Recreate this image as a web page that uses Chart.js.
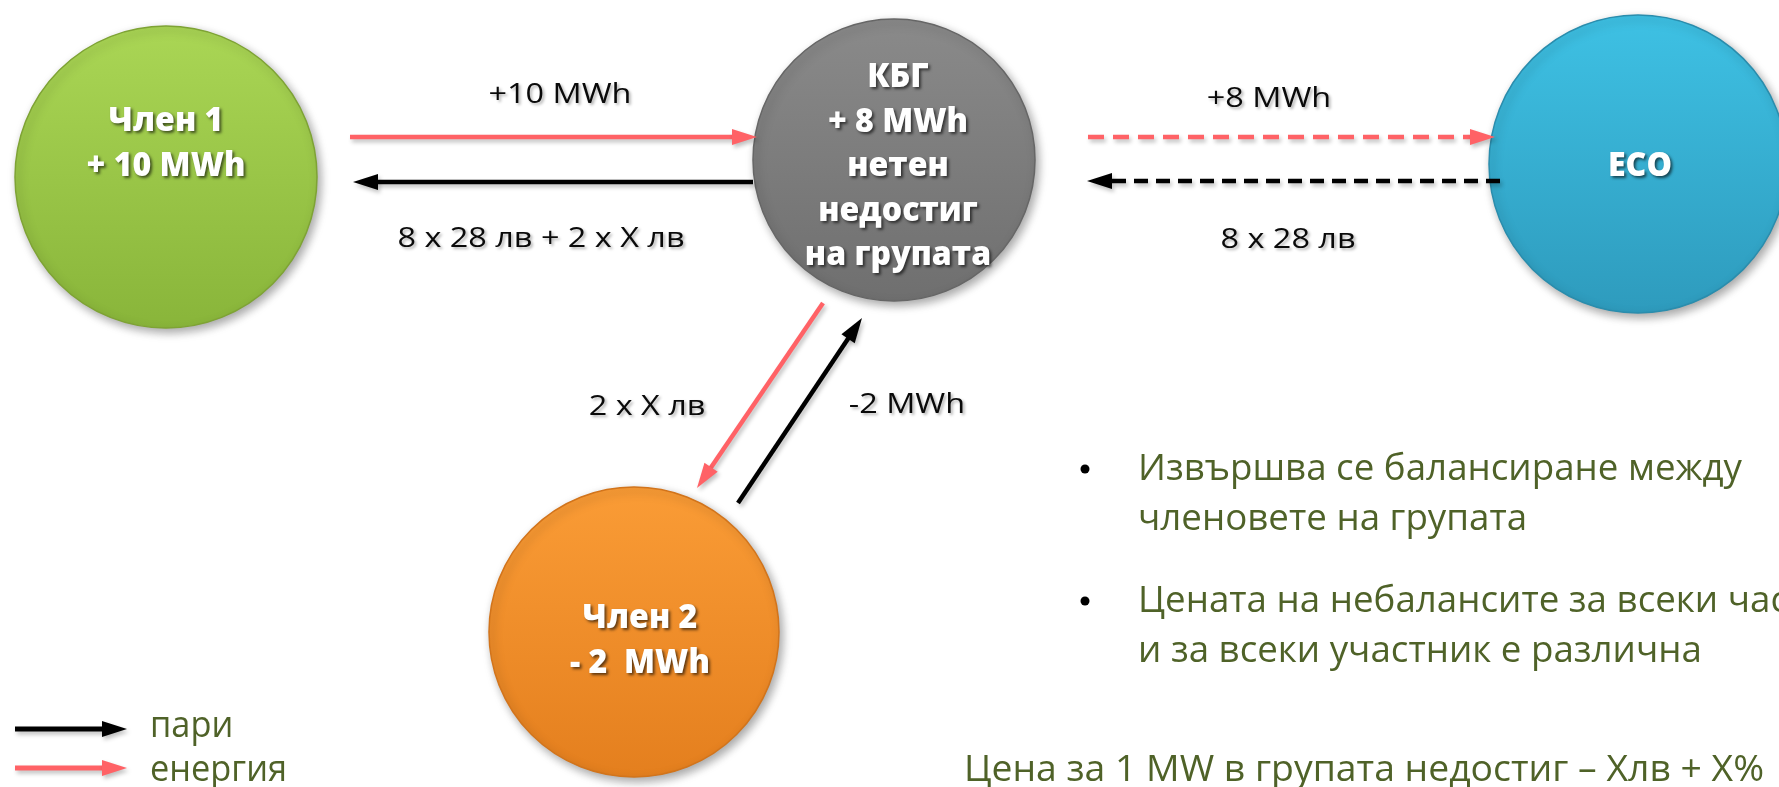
<!DOCTYPE html>
<html>
<head>
<meta charset="utf-8">
<script src="https://cdn.jsdelivr.net/npm/chart.js@4/dist/chart.umd.min.js"></script>
<style>
    body { margin: 0; background: #ffffff; }
    #box { width: 1779px; height: 787px; }
</style>
</head>
<body>
<div id="box"><canvas id="diagram"></canvas></div>
<script>
/* data: nodes, flows, notes */
const nodeNames = ['Член 1', 'КБГ', 'ECO', 'Член 2'];
const nodeLines = [
    ['Член 1', '+ 10 MWh'],
    ['КБГ', '+ 8 MWh', 'нетен', 'недостиг', 'на групата'],
    ['ECO'],
    ['Член 2', '- 2  MWh']
];
const flowKinds = ['energy', 'money', 'energy', 'money', 'energy', 'money'];
const flowDashed = [false, false, true, true, false, false];
const flowLabels = ['+10 MWh', '8 x 28 лв + 2 x X лв', '+8 MWh', '8 x 28 лв', '2 x X лв', '-2 MWh'];
const legendLabels = ['пари', 'енергия'];
const legendKinds = ['money', 'energy'];
const bulletTexts = [
    ['Извършва се балансиране между', 'членовете на групата'],
    ['Цената на небалансите за всеки час', 'и за всеки участник е различна']
];
const footNote = 'Цена за 1 MW в групата недостиг – Хлв + Х%';

/* layout (axis units = page pixels) */
const layout = {
    nodeX: [166, 894, 1638, 634],
    nodeY: [177, 160, 164, 632],
    nodeR: [151, 141, 149, 145],
    nodeTextX: [166, 898, 1640, 640],
    nodeTextY: [131, 87, 176, 628],
    nodeLineGap: 44.5,
    flows: [[350, 137, 757, 137], [753, 182, 353, 182], [1088, 137, 1495, 137],
            [1500, 181, 1087, 181], [823, 303, 697, 488], [738, 503, 862, 318]],
    flowText: [[560, 103], [541, 247], [1269, 107], [1288, 248], [647, 415], [907, 413]],
    legend: [[15, 729, 127, 729], [15, 768, 127, 768]],
    legendText: [[150, 737], [150, 781]],
    bulletX: 1085, textX: 1138,
    bulletY: [[480, 530], [612, 662]],
    footX: 964, footY: 781
};

const topColors = ['#aad655', '#8a8a8a', '#3ec1e4', '#fa9c36'];
const bottomColors = ['#89b53a', '#6f6f6f', '#2e9bbd', '#e47f1e'];
const rimColors = ['#7ea334', '#666666', '#2a8dad', '#d2741b'];
const kindColor = { energy: '#ff6266', money: '#000000' };
const olive = '#4f6228';

const FONT = '"Open Sans", "Noto Sans", sans-serif';

function fitScale(ctx, font, ref, target) {
    ctx.font = font;
    return target / ctx.measureText(ref).width;
}

function drawLabel(ctx, text, x, y, font, color, sx, align, shadow) {
    ctx.save();
    ctx.font = font;
    ctx.fillStyle = color;
    ctx.textAlign = align;
    ctx.textBaseline = 'alphabetic';
    if (shadow) {
        ctx.shadowColor = shadow;
        ctx.shadowBlur = 3;
        ctx.shadowOffsetX = 2;
        ctx.shadowOffsetY = 2;
    }
    ctx.translate(x, y);
    ctx.scale(sx, 1);
    ctx.fillText(text, 0, 0);
    ctx.restore();
}

function drawArrow(ctx, x1, y1, x2, y2, color, width, dash) {
    const a = Math.atan2(y2 - y1, x2 - x1);
    const hl = 25, hw = 8;
    const bx = x2 - hl * Math.cos(a), by = y2 - hl * Math.sin(a);
    ctx.save();
    ctx.shadowColor = 'rgba(0,0,0,0.25)';
    ctx.shadowBlur = 4;
    ctx.shadowOffsetX = 2;
    ctx.shadowOffsetY = 3;
    ctx.strokeStyle = color;
    ctx.fillStyle = color;
    ctx.lineWidth = width;
    ctx.setLineDash(dash);
    ctx.beginPath();
    ctx.moveTo(x1, y1);
    ctx.lineTo(bx + 2 * Math.cos(a), by + 2 * Math.sin(a));
    ctx.stroke();
    ctx.setLineDash([]);
    ctx.beginPath();
    ctx.moveTo(x2, y2);
    ctx.lineTo(bx - hw * Math.sin(a), by + hw * Math.cos(a));
    ctx.lineTo(bx + hw * Math.sin(a), by - hw * Math.cos(a));
    ctx.closePath();
    ctx.fill();
    ctx.restore();
}

/* Shadow under the circles */
const shadowPlugin = {
    id: 'nodeShadow',
    beforeDatasetDraw(chart) {
        const ctx = chart.ctx;
        ctx.save();
        ctx.shadowColor = 'rgba(0,0,0,0.35)';
        ctx.shadowBlur = 10;
        ctx.shadowOffsetX = 3;
        ctx.shadowOffsetY = 4;
    },
    afterDatasetDraw(chart) {
        chart.ctx.restore();
    }
};

/* Arrows, labels and notes */
const diagramPlugin = {
    id: 'diagram',
    afterDatasetsDraw(chart) {
        const ctx = chart.ctx;
        const sx = v => chart.scales.x.getPixelForValue(v);
        const sy = v => chart.scales.y.getPixelForValue(v);

        // flows
        layout.flows.forEach((f, i) => {
            const dash = flowDashed[i] ? (flowKinds[i] === 'energy' ? [16, 9] : [14, 8]) : [];
            drawArrow(ctx, sx(f[0]), sy(f[1]), sx(f[2]), sy(f[3]), kindColor[flowKinds[i]], 4.5, dash);
        });

        // node labels
        const boldFont = '800 33px ' + FONT;
        const nodeSx = fitScale(ctx, boldFont, '+ 10 MWh', 159);
        nodeLines.forEach((lines, i) => {
            lines.forEach((t, j) => {
                drawLabel(ctx, t, sx(layout.nodeTextX[i]), sy(layout.nodeTextY[i]) + j * layout.nodeLineGap,
                    boldFont, '#ffffff', nodeSx, 'center', 'rgba(0,0,0,0.6)');
            });
        });

        // flow labels
        const flowFont = '27px ' + FONT;
        const flowSx = fitScale(ctx, flowFont, '8 x 28 лв + 2 x X лв', 287);
        flowLabels.forEach((t, i) => {
            const p = layout.flowText[i];
            drawLabel(ctx, t, sx(p[0]), sy(p[1]), flowFont, '#0a0a0a', flowSx, 'center', 'rgba(0,0,0,0.3)');
        });

        // legend
        legendKinds.forEach((k, i) => {
            const a = layout.legend[i];
            drawArrow(ctx, sx(a[0]), sy(a[1]), sx(a[2]), sy(a[3]), kindColor[k], 5, []);
        });
        const legFont = '36px ' + FONT;
        const legSx = fitScale(ctx, legFont, 'енергия', 137);
        legendLabels.forEach((t, i) => {
            const p = layout.legendText[i];
            drawLabel(ctx, t, sx(p[0]), sy(p[1]), legFont, olive, legSx, 'left', null);
        });

        // bullets
        const bulFont = '36px ' + FONT;
        const bulSx = fitScale(ctx, bulFont, bulletTexts[0][0], 604);
        bulletTexts.forEach((lines, i) => {
            ctx.save();
            ctx.fillStyle = '#000000';
            ctx.beginPath();
            ctx.arc(sx(layout.bulletX), sy(layout.bulletY[i][0]) - 11, 4.5, 0, Math.PI * 2);
            ctx.fill();
            ctx.restore();
            lines.forEach((t, j) => {
                drawLabel(ctx, t, sx(layout.textX), sy(layout.bulletY[i][j]), bulFont, olive, bulSx, 'left', null);
            });
        });

        // footnote
        const footSx = fitScale(ctx, bulFont, footNote, 800);
        drawLabel(ctx, footNote, sx(layout.footX), sy(layout.footY), bulFont, olive, footSx, 'left', null);
    }
};

new Chart(document.getElementById('diagram').getContext('2d'), {
    type: 'bubble',
    data: {
        datasets: [{
            label: 'nodes',
            data: nodeNames.map((n, i) => ({ x: layout.nodeX[i], y: layout.nodeY[i], r: layout.nodeR[i] })),
            backgroundColor: function (c) {
                if (c.type !== 'data' || !c.chart.chartArea) {
                    return topColors[c.dataIndex || 0];
                }
                const cy = c.chart.scales.y.getPixelForValue(c.raw.y);
                const g = c.chart.ctx.createLinearGradient(0, cy - c.raw.r, 0, cy + c.raw.r);
                g.addColorStop(0, topColors[c.dataIndex]);
                g.addColorStop(1, bottomColors[c.dataIndex]);
                return g;
            },
            borderColor: rimColors,
            borderWidth: 1.5,
            hoverRadius: 0,
            clip: false
        }]
    },
    options: {
        responsive: true,
        maintainAspectRatio: false,
        animation: false,
        events: [],
        layout: { padding: 0, autoPadding: false },
        scales: {
            x: { type: 'linear', min: 0, max: 1779, display: false },
            y: { type: 'linear', min: 0, max: 787, reverse: true, display: false }
        },
        plugins: {
            legend: { display: false },
            tooltip: { enabled: false }
        }
    },
    plugins: [shadowPlugin, diagramPlugin]
});
</script>
</body>
</html>
